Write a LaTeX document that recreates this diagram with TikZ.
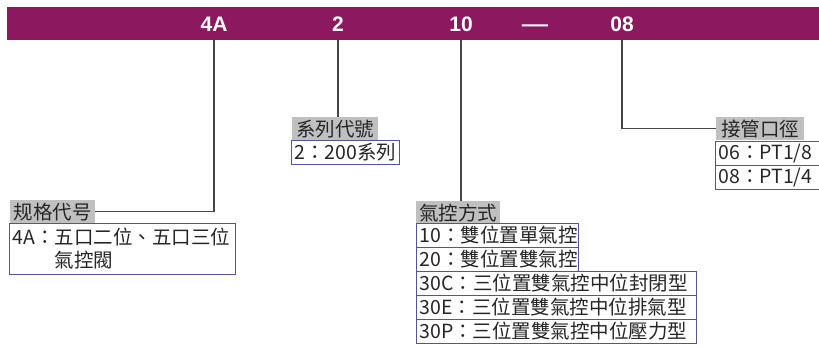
\documentclass[tikz,border=0pt]{standalone}
\usepackage{fontspec}
\setmainfont{Noto Sans CJK TC}
\newfontfamily\codefont{Liberation Sans}
\definecolor{barPurple}{RGB}{140,24,96}
\definecolor{tagGray}{RGB}{192,192,192}
\definecolor{boxBlue}{RGB}{84,84,158}
\definecolor{inkGray}{RGB}{38,38,38}
\definecolor{leadGray}{RGB}{70,70,70}

\begin{document}
\begin{tikzpicture}[
    x=1pt, y=-1pt,
    code node/.style={text=white, inner sep=0pt, font=\codefont\bfseries\fontsize{21}{21}\selectfont},
    tag node/.style={fill=tagGray, text=inkGray, anchor=north west, inner xsep=3pt, inner ysep=0pt, minimum width=#1, minimum height=23pt, font=\fontsize{19.5}{23}\selectfont},
    item node/.style={draw=boxBlue, line width=0.9pt, text=inkGray, anchor=north west, inner xsep=3pt, inner ysep=0pt, text width=#1, minimum height=24pt, align=left, font=\fontsize{19.5}{23}\selectfont},
    lead line/.style={draw=leadGray, line width=1.2pt}
]
\clip (0,0) rectangle (819,346);

% 型号栏
\node[fill=barPurple, anchor=north west, minimum width=830pt, minimum height=33pt, inner sep=0pt] (bar) at (7,7) {};
\foreach \x/\t/\n in {214/4A/c4A, 338/2/c2, 461/10/c10, 622/08/c08}
    \node[code node] (\n) at (\x,24) {\t};
\node[code node] (cDash) at (535,28) {\scalebox{1.25}[1]{—}};

% 说明标签
\node[tag node=85pt] (gTag) at (10,200) {规格代号};
\node[tag node=86pt] (sTag) at (292,117) {系列代號};
\node[tag node=82pt] (kTag) at (416,201) {氣控方式};
\node[tag node=88pt] (pTag) at (716,117) {接管口徑};

% 引线
\draw[lead line] (c4A |- bar.south) -- (c4A |- gTag.east) -- (gTag.east);
\draw[lead line] (c2 |- bar.south) -- (c2 |- sTag.north);
\draw[lead line] (c10 |- bar.south) -- (c10 |- kTag.north);
\draw[lead line] (c08 |- bar.south) -- (c08 |- pTag.west) -- (pTag.west);

% 选项框
\node[item node=220pt, minimum height=51pt] (gItem) at (9,223) {4A：五口二位、五口三位\\\hphantom{4A：}氣控閥};
\node[item node=102pt] (sItem) at (291,140) {2：200系列};
\foreach \i/\w/\t in {1/156pt/{10：雙位置單氣控}, 2/156pt/{20：雙位置雙氣控}, 3/274pt/{30C：三位置雙氣控中位封閉型}, 4/274pt/{30E：三位置雙氣控中位排氣型}, 5/274pt/{30P：三位置雙氣控中位壓力型}}
    \node[item node=\w] (kItem\i) at (416,{223+24*(\i-1)}) {\t};
\foreach \i/\t in {1/{06：PT1/8}, 2/{08：PT1/4}}
    \node[item node=120pt] (pItem\i) at (715,{141+24*(\i-1)}) {\t};

\end{tikzpicture}
\end{document}
